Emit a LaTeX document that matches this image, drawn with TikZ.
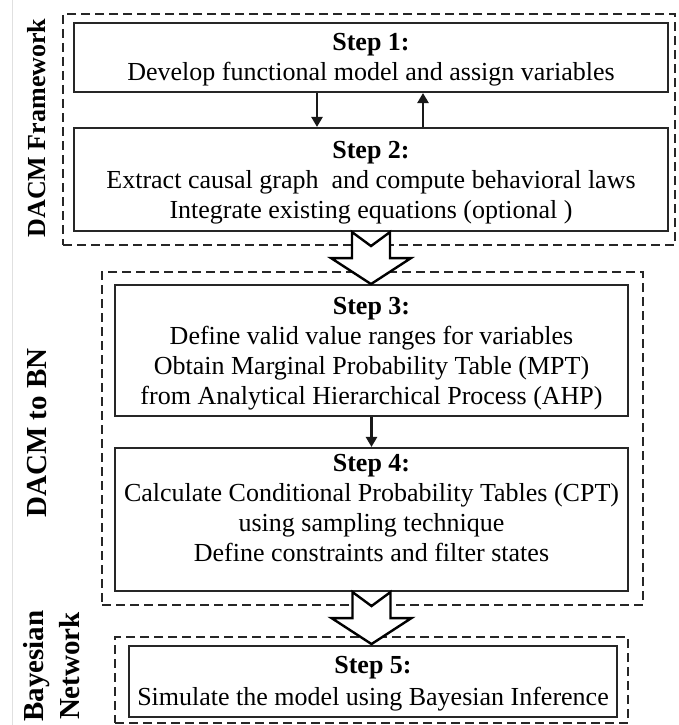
\documentclass[tikz,border=0pt]{standalone}
\usepackage{fontspec}
\setmainfont{Liberation Serif}
\usetikzlibrary{arrows.meta,calc}
\begin{document}
\begin{tikzpicture}[x=1pt,y=-1pt,
  stepbox/.style={draw=black!85, line width=2.1pt, inner sep=0pt},
  group/.style={draw=black!85, line width=2.1pt, dash pattern=on 9pt off 5pt, inner sep=0pt},
  txt/.style={font=\fontsize{26}{30}\selectfont, align=center, inner sep=0pt},
  lab/.style={font=\fontsize{29}{36}\selectfont\bfseries, rotate=90, align=center, inner sep=0pt},
  link/.style={-{Triangle[width=11pt,length=10pt]}, line width=2.4pt, black!90},
  bigarrow/.style={draw=black, fill=white, line width=2.4pt, line join=miter}
]
\useasboundingbox (0,0) rectangle (678,725);
\fill[white] (0,0) rectangle (678,725);
\draw[black!12, line width=0.8pt] (12,0) -- (12,725);

% group boxes
\node[group, minimum width=612pt, minimum height=231pt] (g1) at (369,129.5) {};
\node[group, minimum width=541pt, minimum height=333pt] (g2) at (372.5,438.5) {};
\node[group, minimum width=513pt, minimum height=86pt] (g3) at (371.5,680) {};

% step boxes
\node[stepbox, minimum width=594pt, minimum height=69pt] (s1) at (371,57.5) {};
\node[stepbox, minimum width=594pt, minimum height=103pt] (s2) at (371,179.5) {};
\node[stepbox, minimum width=513pt, minimum height=131pt] (s3) at (371.5,350.5) {};
\node[stepbox, minimum width=513pt, minimum height=143pt] (s4) at (371.5,519.5) {};
\node[stepbox, minimum width=488pt, minimum height=71pt] (s5) at (373,681.5) {};

% texts
\node[txt] (t1) at (371,60) {\textbf{Step 1:}\\Develop functional model and assign variables};
\node[txt] (t2) at (371,183) {\textbf{Step 2:}\\Extract causal graph~ and compute behavioral laws\\Integrate existing equations (optional )};
\node[txt] (t3) at (371.5,354) {\textbf{Step 3:}\\Define valid value ranges for variables\\Obtain Marginal Probability Table (MPT)\\from Analytical Hierarchical Process (AHP)};
\node[txt] (t4) at (371.5,508) {\textbf{Step 4:}\\Calculate Conditional Probability Tables (CPT)\\using sampling technique\\Define constraints and filter states};
\node[txt, font=\fontsize{26}{32}\selectfont] (t5) at (373,684) {\textbf{Step 5:}\\Simulate the model using Bayesian Inference};

% side labels
\node[lab, font=\fontsize{26}{32}\selectfont\bfseries] (l1) at (37,128) {DACM Framework};
\node[lab] (l2) at (37,433) {DACM to BN};
\node[lab] (l3) at (52,666) {Bayesian\\Network};

% small arrows
\draw[link] ([xshift=-54pt]s1.south) -- ([xshift=-54pt]s2.north);
\draw[link] ([xshift=52pt]s2.north) -- ([xshift=52pt]s1.south);
\draw[link] (s3.south) -- (s4.north);

% block arrows
\foreach \a in {s2,s4} {
  \draw[bigarrow] ($(\a.south)+(-19,0)$) -- ($(\a.south)+(0,14)$) -- ($(\a.south)+(19,0)$)
    -- ($(\a.south)+(19,26)$) -- ($(\a.south)+(40,26)$) -- ($(\a.south)+(0,52)$)
    -- ($(\a.south)+(-40,26)$) -- ($(\a.south)+(-19,26)$) -- cycle;
}
\end{tikzpicture}
\end{document}
